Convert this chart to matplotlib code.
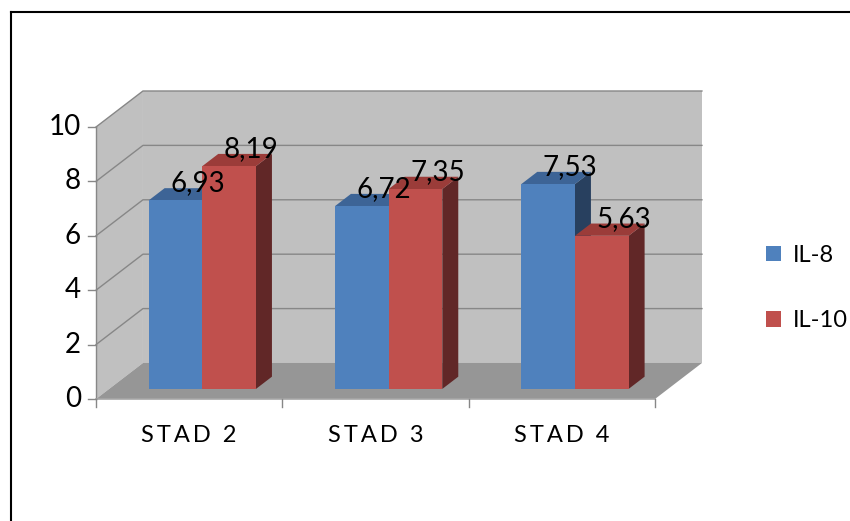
# Stapeldiagram i 3D-stil: IL-8 och IL-10 per stadium.

import matplotlib
matplotlib.use("Agg")
from matplotlib import pyplot as plt
from matplotlib.patches import Polygon, Patch
from matplotlib.lines import Line2D

plt.rcParams["font.family"] = ["Lato", "DejaVu Sans"]

STADIER = ["STAD 2", "STAD 3", "STAD 4"]
SERIER = ["IL-8", "IL-10"]
IL8 = [6.93, 6.72, 7.53]
IL10 = [8.19, 7.35, 5.63]
Y_TICKS = [0, 2, 4, 6, 8, 10]

FARGER = {
    "IL-8": ("#4F81BD", "#3D6496", "#28405F"),
    "IL-10": ("#C0504D", "#9B3C39", "#612727"),
}

VAGG = "#C0C0C0"
GOLV = "#969696"
RUTNAT = "#878787"

# djupförskjutning för bakväggen (kategorienheter, värdeenheter)
DX = 0.252
DY = 1.324
BAR_Z0, BAR_Z1 = 0.28, 0.62
BAR_W = 0.288


def proj(x, v, z):
    return x + z * DX, v + z * DY


def poly(ax, pts, farg, zorder, ec="none", lw=0):
    ax.add_patch(Polygon(pts, closed=True, facecolor=farg, edgecolor=ec,
                         linewidth=lw, zorder=zorder))


fig = plt.figure(figsize=(8.5, 5.21), dpi=100)
ax = fig.add_axes([0, 0, 1, 1])
ax.set_xlim(-96 / 186.33, (850 - 96) / 186.33)
ax.set_ylim((399 - 521) / 27.2, 399 / 27.2)
ax.axis("off")

n = len(STADIER)
ymax = Y_TICKS[-1]

# vänster sidovägg och bakvägg
poly(ax, [proj(0, 0, 0), proj(0, ymax, 0), proj(0, ymax, 1), proj(0, 0, 1)], VAGG, 1)
poly(ax, [proj(0, 0, 1), proj(0, ymax, 1), proj(n, ymax, 1), proj(n, 0, 1)], VAGG, 1)

# stödlinjer
for v in Y_TICKS[1:]:
    pts = [proj(0, v, 0), proj(0, v, 1), proj(n, v, 1)]
    ax.plot([p[0] for p in pts], [p[1] for p in pts], color=RUTNAT, lw=1, zorder=2)

# golv
poly(ax, [proj(0, 0, 0), proj(n, 0, 0), proj(n, 0, 1), proj(0, 0, 1)], GOLV, 3)

# axlar
ax.plot([0, 0], [0, ymax], color=RUTNAT, lw=1, zorder=4)
ax.plot([0, n], [0, 0], color="#A6A6A6", lw=1.2, zorder=4)
for v in Y_TICKS:
    ax.plot([-8 / 186.33, 0], [v, v], color=RUTNAT, lw=1, zorder=4)
    ax.text(-15 / 186.33, v, str(v), ha="right", va="center", fontsize=20)
for k in range(n + 1):
    ax.plot([k, k], [0, -8 / 27.2], color=RUTNAT, lw=1, zorder=4)

for k, stad in enumerate(STADIER):
    ax.text(k + 0.5, -36 / 27.2, "\u2009".join(stad), ha="center", va="center",
            fontsize=17)

# staplar
z = 5
for k in range(n):
    for i, (namn, varden) in enumerate(zip(SERIER, [IL8, IL10])):
        v = varden[k]
        x0 = k + 0.5 - BAR_W + i * BAR_W
        x1 = x0 + BAR_W
        front, topp, sida = FARGER[namn]
        poly(ax, [proj(x1, 0, BAR_Z0), proj(x1, v, BAR_Z0), proj(x1, v, BAR_Z1),
                  proj(x1, 0, BAR_Z1)], sida, z)
        poly(ax, [proj(x0, v, BAR_Z0), proj(x1, v, BAR_Z0), proj(x1, v, BAR_Z1),
                  proj(x0, v, BAR_Z1)], topp, z)
        poly(ax, [proj(x0, 0, BAR_Z0), proj(x1, 0, BAR_Z0), proj(x1, v, BAR_Z0),
                  proj(x0, v, BAR_Z0)], front, z)
        z += 1
        lx, ly = proj((x0 + x1) / 2, v, BAR_Z0)
        ax.text(lx + 22 / 186.33, ly + 17 / 27.2, f"{v:.2f}".replace(".", ","),
                ha="center", va="center", fontsize=20, zorder=50)

handles = [Patch(facecolor=FARGER[s][0], edgecolor="none") for s in SERIER]
fig.legend(handles, SERIER, loc="center left",
           bbox_to_anchor=(745 / 850, 1 - 288 / 521), frameon=False,
           fontsize=17, handlelength=0.62, handleheight=0.62,
           handletextpad=0.5, labelspacing=1.9)

# ram runt diagramytan
fig.add_artist(Line2D([11 / 850, 11 / 850], [0, 1 - 12 / 521], color="black", lw=1.5))
fig.add_artist(Line2D([11 / 850, 1], [1 - 12 / 521, 1 - 12 / 521], color="black", lw=1.5))

fig.savefig("out.png", dpi=100)
